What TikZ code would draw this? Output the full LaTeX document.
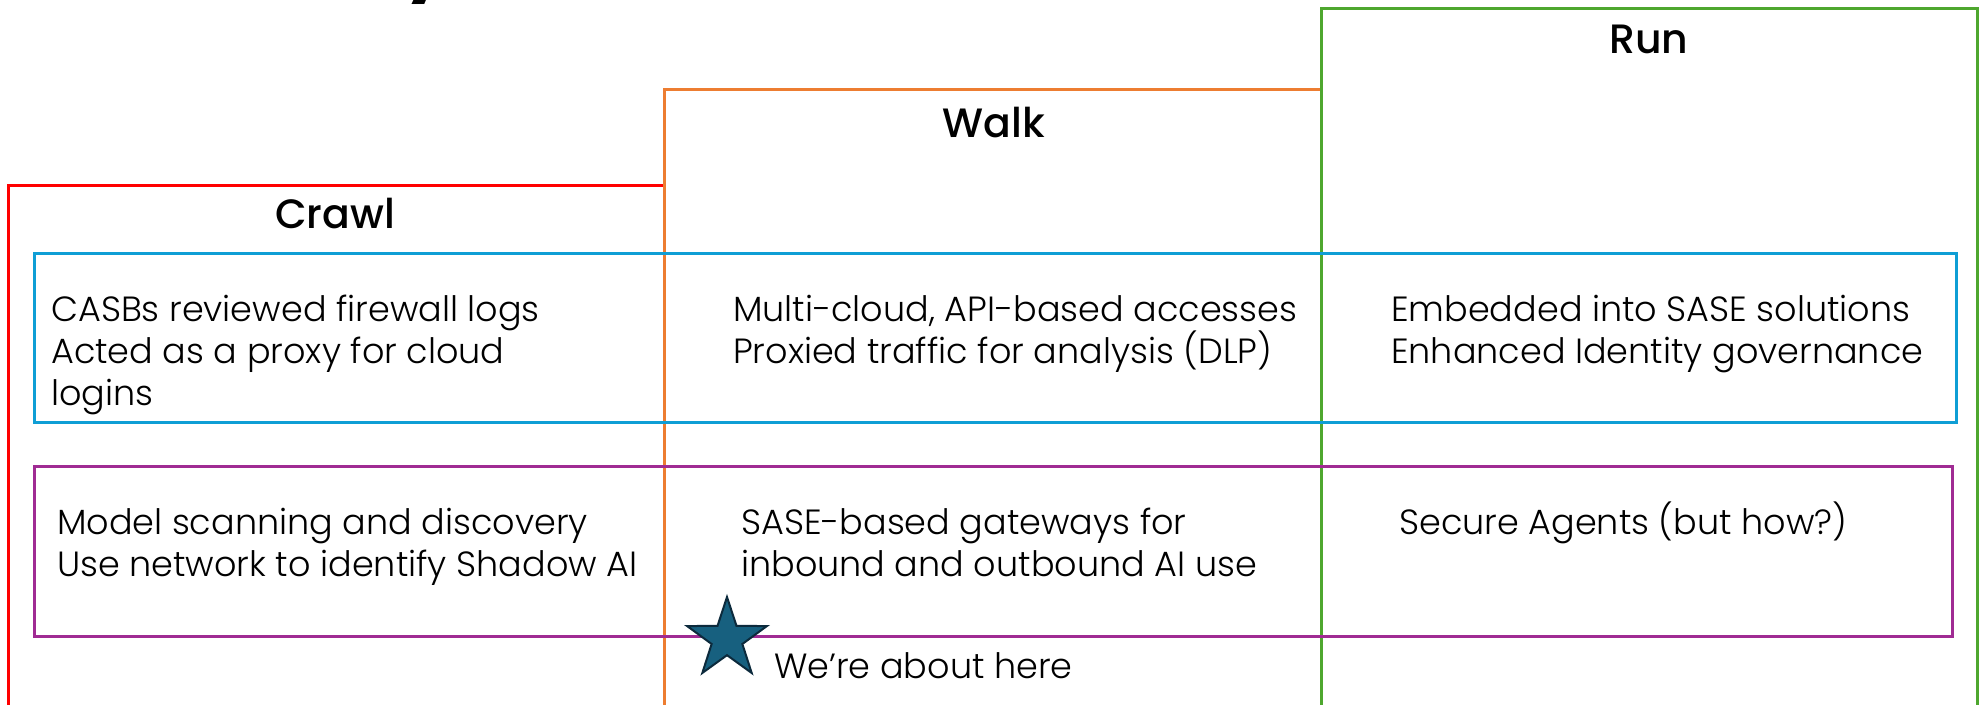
\documentclass[tikz,border=0pt]{standalone}
\usepackage{fontspec}
\setmainfont{Poppins Light}
\newfontfamily\headfont{Poppins Medium}
\usetikzlibrary{shapes.geometric}

\definecolor{crawlred}{HTML}{FF0000}
\definecolor{walkorange}{HTML}{ED7D31}
\definecolor{rungreen}{HTML}{4EA72E}
\definecolor{casbblue}{HTML}{0F9ED5}
\definecolor{aipurple}{HTML}{A02B93}
\definecolor{starfill}{HTML}{17607F}
\definecolor{starline}{HTML}{0C2A3C}

\tikzset{
  stageline/.style={line width=3pt},
  stagetitle/.style={font=\headfont\fontsize{41}{41}\selectfont, anchor=base, inner sep=0pt},
  rowbox/.style={draw=#1, line width=3pt, inner sep=0pt},
  % multi-line nodes are placed by the baseline of their last line
  bodytext/.style={font=\fontsize{35}{42}\selectfont, anchor=base west, align=left, inner sep=0pt},
}

\begin{document}
\begin{tikzpicture}[x=1pt,y=-1pt]
\useasboundingbox (0,0) rectangle (1983,704);
\clip (0,0) rectangle (1983,704);

% heading descender peeking in from above
\node[font=\headfont\bfseries\fontsize{60}{60}\selectfont, anchor=base, inner sep=0pt] (head) at (426,-11) {y};

% the three stages, each a step higher than the last
\draw[stageline, crawlred]   (8,720) -- (8,185) -- (664,185) -- (664,720);
\draw[stageline, walkorange] (664,720) -- (664,89) -- (1321,89) -- (1321,720);
\draw[stageline, rungreen]   (1321,720) -- (1321,8) -- (1977,8) -- (1977,720);

\node[stagetitle] (crawl) at (335,228) {Crawl};
\node[stagetitle] (walk)  at (994,137) {Walk};
\node[stagetitle] (run)   at (1649,53) {Run};

% CASB row
\node[rowbox=casbblue, minimum width=1922pt, minimum height=169pt] (casb) at (995,337.5) {};
\node[bodytext] (casb1) at (51,405)   {CASBs reviewed firewall logs\\Acted as a proxy for cloud\\logins};
\node[bodytext] (casb2) at (733,363)  {Multi-cloud, API-based accesses\\Proxied traffic for analysis (DLP)};
\node[bodytext] (casb3) at (1391,363) {Embedded into SASE solutions\\Enhanced Identity governance};

% AI row
\node[rowbox=aipurple, minimum width=1918pt, minimum height=170pt] (ai) at (993,551.5) {};
\node[bodytext] (ai1) at (57,576)   {Model scanning and discovery\\Use network to identify Shadow AI};
\node[bodytext] (ai2) at (741,576)  {SASE-based gateways for\\inbound and outbound AI use};
\node[bodytext] (ai3) at (1399,534) {Secure Agents (but how?)};

% current position marker
\node[star, star points=5, star point ratio=2.6, minimum size=84pt, inner sep=0pt,
      fill=starfill, draw=starline, line width=2pt] (here) at (727,639) {};
\node[bodytext] (heretext) at (774,678) {We’re about here};
\end{tikzpicture}
\end{document}
